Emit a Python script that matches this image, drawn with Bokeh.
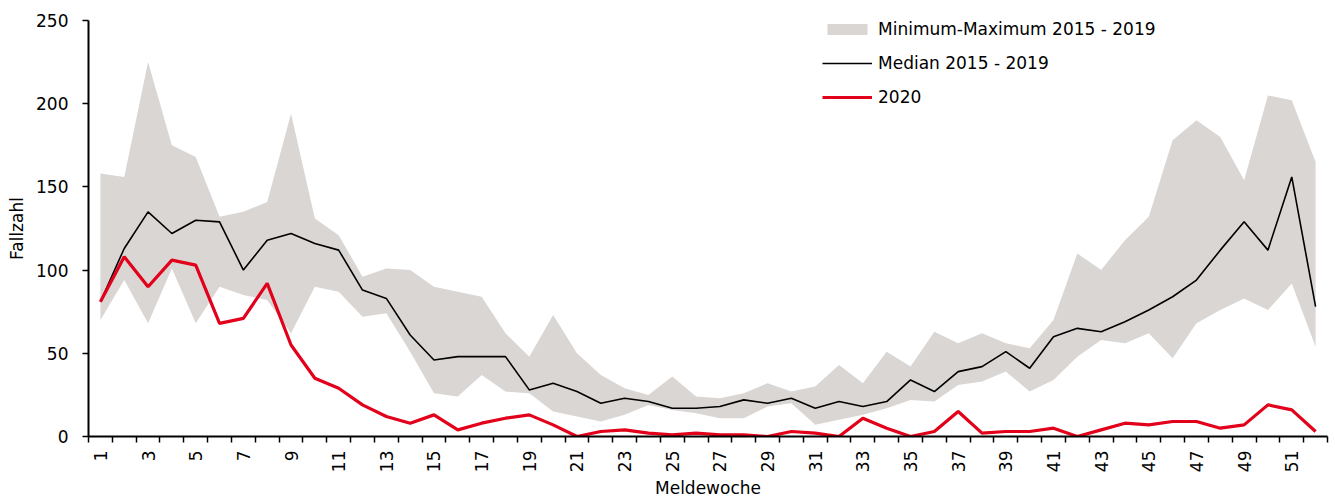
from math import pi
from bokeh.plotting import figure
from bokeh.models import FixedTicker, Range1d, Legend, LegendItem, ColumnDataSource, Title
from bokeh.embed import file_html
from bokeh.resources import INLINE

weeks = list(range(1, 53))
min_2015_2019 = [70, 94, 68, 101, 68, 90, 85, 82, 62, 90, 87, 72, 74, 51, 26, 24, 37, 27, 26, 15,
                 12, 9, 13, 19, 16, 14, 11, 11, 18, 20, 7, 10, 13, 17, 22, 21, 31, 33, 39, 27,
                 34, 48, 58, 56, 62, 47, 68, 76, 83, 76, 92, 54]
max_2015_2019 = [158, 156, 225, 175, 168, 132, 135, 141, 194, 131, 121, 96, 101, 100, 90, 87, 84, 62, 48, 73,
                 50, 37, 29, 25, 36, 24, 23, 26, 32, 27, 30, 43, 32, 51, 42, 63, 56, 62, 56, 53,
                 70, 110, 100, 118, 132, 178, 190, 180, 154, 205, 202, 165]
median_2015_2019 = [81, 113, 135, 122, 130, 129, 100, 118, 122, 116, 112, 88, 83, 61, 46, 48, 48, 48, 28, 32,
                    27, 20, 23, 21, 17, 17, 18, 22, 20, 23, 17, 21, 18, 21, 34, 27, 39, 42, 51, 41,
                    60, 65, 63, 69, 76, 84, 94, 112, 129, 112, 156, 78]
cases_2020 = [81, 108, 90, 106, 103, 68, 71, 92, 55, 35, 29, 19, 12, 8, 13, 4, 8, 11, 13, 7,
              0, 3, 4, 2, 1, 2, 1, 1, 0, 3, 2, 0, 11, 5, 0, 3, 15, 2, 3, 3,
              5, 0, 4, 8, 7, 9, 9, 5, 7, 19, 16, 3]
y_ticks = [0, 50, 100, 150, 200, 250]

FONT = "DejaVu Sans"
FS = "17px"

src = ColumnDataSource(dict(week=weeks, lo=min_2015_2019, hi=max_2015_2019,
                            med=median_2015_2019, cur=cases_2020))

p = figure(width=1333, height=498, output_backend="svg", toolbar_location=None,
           x_range=Range1d(0.5, 52.5), y_range=Range1d(0, 250),
           min_border_left=88, min_border_right=6, min_border_top=20, min_border_bottom=62)
p.outline_line_color = None
p.xgrid.grid_line_color = None
p.ygrid.grid_line_color = None
p.background_fill_color = "white"

band = p.varea(x="week", y1="lo", y2="hi", source=src, fill_color="#D9D6D4")
med = p.line(x="week", y="med", source=src, line_color="black", line_width=1.6)
cur = p.line(x="week", y="cur", source=src, line_color="#E2001A", line_width=3.2)

xa = p.xaxis[0]
xa.ticker = FixedTicker(ticks=[w for w in weeks if w % 2 == 1],
                        minor_ticks=[w - 0.5 for w in weeks] + [52.5])
xa.major_tick_line_color = None
xa.minor_tick_line_color = "black"
xa.minor_tick_line_width = 1.5
xa.minor_tick_out = 6
xa.minor_tick_in = 0
xa.major_label_orientation = pi / 2
xa.major_label_standoff = 8

ya = p.yaxis[0]
ya.ticker = FixedTicker(ticks=y_ticks)
ya.minor_tick_line_color = None
ya.major_tick_out = 6
ya.major_tick_in = 0
ya.major_tick_line_width = 1.5
ya.major_label_standoff = 14
ya.axis_label = "Fallzahl"
ya.axis_label_standoff = 6
ya.axis_label_text_font_style = "normal"

for ax in (xa, ya):
    ax.axis_line_width = 2
    ax.major_label_text_font = FONT
    ax.major_label_text_font_size = FS
    ax.major_label_text_color = "black"
    ax.axis_label_text_font = FONT
    ax.axis_label_text_font_size = FS
    ax.axis_label_text_color = "black"
    ax.axis_line_color = "black"

xtitle = Title(text="Meldewoche", align="center", text_font=FONT, text_font_size=FS,
               text_font_style="normal", text_color="black", standoff=0, offset=0)
p.add_layout(xtitle, "below")

legend = Legend(items=[
    LegendItem(label="Minimum-Maximum 2015 - 2019", renderers=[band]),
    LegendItem(label="Median 2015 - 2019", renderers=[med]),
    LegendItem(label="2020", renderers=[cur]),
], location=(734, 329))
legend.glyph_width = 50
legend.glyph_height = 14
legend.label_height = 20
legend.spacing = 14
legend.padding = 0
legend.margin = 0
legend.label_standoff = 6
legend.border_line_color = None
legend.background_fill_alpha = 0
legend.label_text_font = FONT
legend.label_text_font_size = FS
legend.label_text_color = "black"
p.add_layout(legend)

open("out.html", "w").write(file_html(p, INLINE))
